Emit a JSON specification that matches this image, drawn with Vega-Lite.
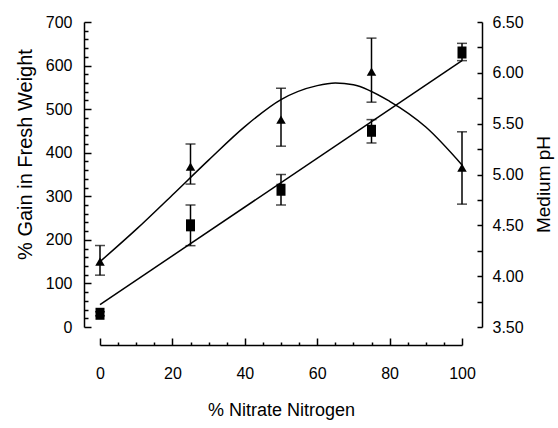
{
  "$schema": "https://vega.github.io/schema/vega-lite/v6.json",
  "width": 362,
  "height": 305,
  "autosize": {"type": "none"},
  "padding": {"left": 100, "top": 22, "right": 96, "bottom": 101},
  "background": "white",
  "config": {
    "view": {"stroke": null},
    "font": "Liberation Sans",
    "axis": {
      "grid": false,
      "domainColor": "black",
      "domainWidth": 1.5,
      "tickColor": "black",
      "tickWidth": 1.5,
      "labelColor": "black",
      "titleColor": "black",
      "labelFont": "Liberation Sans",
      "titleFont": "Liberation Sans",
      "titleFontWeight": "normal",
      "labelFontSize": 16,
      "titleFontSize": 20,
      "labelFlush": false,
      "labelOverlap": false,
      "labelBound": false
    }
  },
  "datasets": {
    "fw": [
      {"n": 0, "fw": 150, "lo": 119, "hi": 187},
      {"n": 25, "fw": 368, "lo": 328, "hi": 420},
      {"n": 50, "fw": 476, "lo": 415, "hi": 548},
      {"n": 75, "fw": 586, "lo": 516, "hi": 663},
      {"n": 100, "fw": 366, "lo": 282, "hi": 448}
    ],
    "fwfit": [
      {"n": 0, "fw": 150},
      {"n": 10, "fw": 224},
      {"n": 20, "fw": 303},
      {"n": 30, "fw": 383},
      {"n": 40, "fw": 460},
      {"n": 50, "fw": 522},
      {"n": 60, "fw": 554},
      {"n": 65, "fw": 560},
      {"n": 70, "fw": 556},
      {"n": 80, "fw": 518},
      {"n": 90, "fw": 459},
      {"n": 100, "fw": 372}
    ],
    "ph": [
      {"n": 0, "ph": 3.63, "lo": 3.61, "hi": 3.65},
      {"n": 25, "ph": 4.5, "lo": 4.3, "hi": 4.7},
      {"n": 50, "ph": 4.85, "lo": 4.7, "hi": 5.0},
      {"n": 75, "ph": 5.43, "lo": 5.31, "hi": 5.54},
      {"n": 100, "ph": 6.2, "lo": 6.12, "hi": 6.29}
    ],
    "phfit": [
      {"n": 0, "ph": 3.72},
      {"n": 100, "ph": 6.12}
    ]
  },
  "layer": [
    {
      "layer": [
        {
          "data": {"name": "fw"},
          "mark": {"type": "errorbar", "ticks": {"size": 10, "thickness": 1.5, "color": "black"}, "rule": {"strokeWidth": 1.5, "color": "black"}},
          "encoding": {
            "x": {"field": "n", "type": "quantitative", "scale": {"domain": [0, 100], "nice": false}, "axis": null},
            "y": {"field": "lo", "type": "quantitative", "scale": {"domain": [0, 700], "nice": false}, "axis": null},
            "y2": {"field": "hi"}
          }
        },
        {
          "data": {"name": "fw"},
          "mark": {"type": "point", "shape": "triangle-up", "filled": true, "color": "black", "size": 90, "opacity": 1},
          "encoding": {
            "x": {
              "field": "n", "type": "quantitative", "scale": {"domain": [0, 100], "nice": false},
              "axis": {"orient": "bottom", "values": [0, 20, 40, 60, 80, 100], "offset": 18, "tickSize": -7, "labelPadding": 27, "title": "% Nitrate Nitrogen", "titleFontSize": 18, "titlePadding": 20}
            },
            "y": {
              "field": "fw", "type": "quantitative", "scale": {"domain": [0, 700], "nice": false},
              "axis": {"orient": "left", "values": [0, 100, 200, 300, 400, 500, 600, 700], "offset": 16, "tickSize": -7, "labelPadding": 19, "title": "% Gain in Fresh Weight", "titlePadding": 10, "titleY": 132}
            }
          }
        },
        {
          "data": {"name": "fwfit"},
          "mark": {"type": "line", "color": "black", "strokeWidth": 1.5, "interpolate": "monotone"},
          "encoding": {
            "x": {
              "field": "n", "type": "quantitative", "scale": {"domain": [0, 100], "nice": false},
              "axis": {"orient": "bottom", "values": [5, 10, 15, 25, 30, 35, 45, 50, 55, 65, 70, 75, 85, 90, 95], "offset": 18, "tickSize": -3, "labels": false, "domain": false, "title": null}
            },
            "y": {
              "field": "fw", "type": "quantitative", "scale": {"domain": [0, 700], "nice": false},
              "axis": {"orient": "left", "values": [20, 40, 60, 80, 120, 140, 160, 180, 220, 240, 260, 280, 320, 340, 360, 380, 420, 440, 460, 480, 520, 540, 560, 580, 620, 640, 660, 680], "offset": 16, "tickSize": -4, "labels": false, "domain": false, "title": null}
            }
          }
        }
      ],
      "resolve": {"axis": {"x": "independent", "y": "independent"}}
    },
    {
      "layer": [
        {
          "data": {"name": "ph"},
          "mark": {"type": "errorbar", "ticks": {"size": 10, "thickness": 1.5, "color": "black"}, "rule": {"strokeWidth": 1.5, "color": "black"}},
          "encoding": {
            "x": {"field": "n", "type": "quantitative", "scale": {"domain": [0, 100], "nice": false}, "axis": null},
            "y": {"field": "lo", "type": "quantitative", "scale": {"domain": [3.5, 6.5], "nice": false, "zero": false}, "axis": null},
            "y2": {"field": "hi"}
          }
        },
        {
          "data": {"name": "ph"},
          "mark": {"type": "point", "shape": "M-0.75,-1L0.75,-1L0.75,1L-0.75,1Z", "filled": true, "color": "black", "size": 144, "opacity": 1},
          "encoding": {
            "x": {"field": "n", "type": "quantitative", "scale": {"domain": [0, 100], "nice": false}, "axis": null},
            "y": {
              "field": "ph", "type": "quantitative", "scale": {"domain": [3.5, 6.5], "nice": false, "zero": false},
              "axis": {"orient": "right", "values": [3.5, 4, 4.5, 5, 5.5, 6, 6.5], "format": ".2f", "offset": 20, "tickSize": -5, "labelPadding": 15, "title": "Medium pH", "titleAngle": 270, "titleBaseline": "top", "titlePadding": 11, "titleY": 162, "titleFontSize": 19}
            }
          }
        },
        {
          "data": {"name": "phfit"},
          "mark": {"type": "line", "color": "black", "strokeWidth": 1.5},
          "encoding": {
            "x": {"field": "n", "type": "quantitative", "scale": {"domain": [0, 100], "nice": false}, "axis": null},
            "y": {
              "field": "ph", "type": "quantitative", "scale": {"domain": [3.5, 6.5], "nice": false, "zero": false},
              "axis": {"orient": "right", "values": [3.75, 4.25, 4.75, 5.25, 5.75, 6.25], "offset": 20, "tickSize": -5, "labels": false, "domain": false, "title": null}
            }
          }
        }
      ],
      "resolve": {"axis": {"x": "independent", "y": "independent"}}
    }
  ],
  "resolve": {"scale": {"y": "independent"}, "axis": {"x": "independent", "y": "independent"}}
}
